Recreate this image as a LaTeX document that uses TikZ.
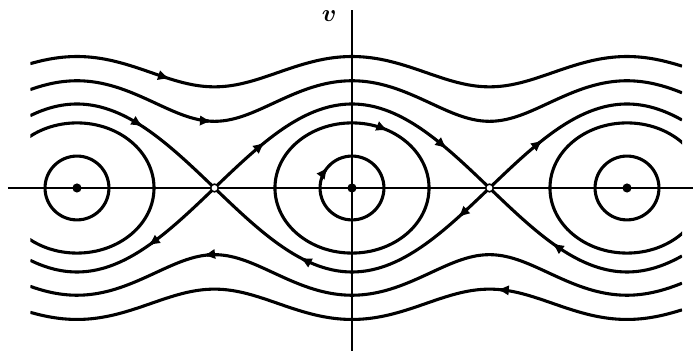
\documentclass[tikz,border=0pt]{standalone}
\usepackage{amsmath}
\usepackage{tikz}
\usetikzlibrary{arrows.meta}
\tikzset{
  orbit/.style={line width=2.2pt, line join=round},
  axis/.style={line width=1.5pt},
  flowtip/.style={-{Latex[length=8.5pt,width=7.5pt]}, line width=2.2pt},
  equil/.style={circle, fill, inner sep=0pt, minimum size=6.5pt},
  saddle/.style={circle, draw, fill=white, line width=1.1pt, inner sep=0pt, minimum size=5.5pt},
  declare function={orb(\ang,\eng)=sqrt(max(0,2*(\eng+cos(\ang r))));},
}

\begin{document}
\begin{tikzpicture}[x=1.0943cm, y=1.05cm]
  \useasboundingbox (-8.042,-3.881) rectangle (7.791,4.476);

  % axes
  \coordinate (xl) at (-7.86,0);
  \coordinate (xr) at (7.791,0);
  \coordinate (vb) at (0,-3.881);
  \coordinate (vt) at (0,4.24);
  \draw[axis] (xl) -- (xr);
  \draw[axis] (vb) -- (vt);
  \node[font=\LARGE] (vlabel) at (-0.52,4.1) {$\boldsymbol{v}$};

  \begin{scope}
    \clip (-7.35,-4) rectangle (7.54,4.3);
    % rotations
    \foreach \en in {2.26,3.9} {
      \draw[orbit] plot[domain=-7.35:7.54, samples=160] (\x,{orb(\x,\en)});
      \draw[orbit] plot[domain=-7.35:7.54, samples=160] (\x,{-orb(\x,\en)});
    }
    % separatrices
    \foreach \a/\b in {-7.35/-3.1416, -3.1416/3.1416, 3.1416/7.54} {
      \draw[orbit] plot[domain=\a:\b, samples=70] (\x,{orb(\x,1)});
      \draw[orbit] plot[domain=\a:\b, samples=70] (\x,{-orb(\x,1)});
    }
    % librations
    \foreach \cx in {-6.2832,0,6.2832} {
      \draw[orbit] (\cx,0) ellipse [x radius=1.76, y radius=1.55];
      \draw[orbit] (\cx,0) ellipse [x radius=0.73, y radius=0.76];
    }
  \end{scope}

  % flow direction
  \foreach \t/\en/\sg in {-4.16/3.9/1, -3.20/2.26/1, -4.775/1/1, -1.99/1/1,
                          2.17/1/1, 4.36/1/1,
                          -4.66/1/-1, -3.40/2.26/-1, -1.19/1/-1, 2.42/1/-1,
                          4.57/1/-1, 3.31/3.9/-1}
    \draw[flowtip] ({\t-0.08*(\sg)},{(\sg)*orb(\t-0.08*(\sg),\en)})
                -- ({\t},{(\sg)*orb(\t,\en)});
  \draw[flowtip] ({1.76*cos(66)},{1.55*sin(66)}) -- ({1.76*cos(62)},{1.55*sin(62)});
  \draw[flowtip] ({0.73*cos(146)},{0.76*sin(146)}) -- ({0.73*cos(139)},{0.76*sin(139)});

  % equilibria
  \foreach \cx/\nm in {-6.2832/cl, 0/cm, 6.2832/cr}
    \node[equil] (\nm) at (\cx,0) {};
  \foreach \cx/\nm in {-3.1416/sl, 3.1416/sr}
    \node[saddle] (\nm) at (\cx,0) {};
\end{tikzpicture}
\end{document}
